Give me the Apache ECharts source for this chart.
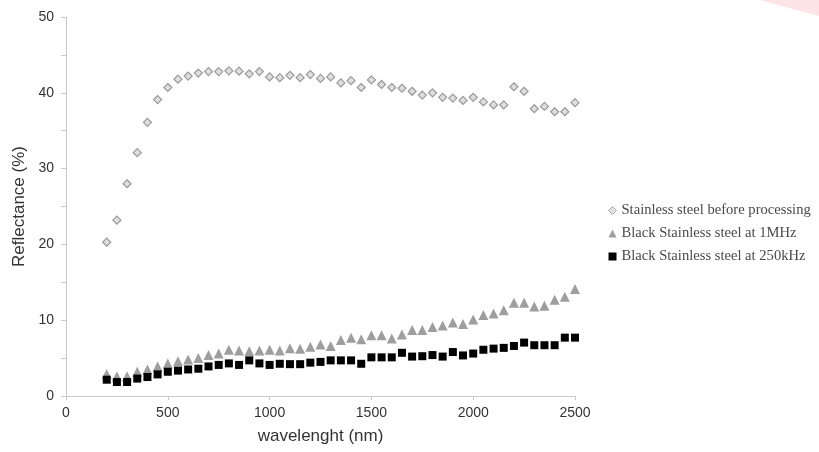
<!DOCTYPE html>
<html>
<head>
<meta charset="utf-8">
<script src="https://cdn.jsdelivr.net/npm/echarts@6/dist/echarts.min.js"></script>
<style>html,body{margin:0;padding:0;background:#fff;}#c{width:819px;height:452px;}</style>
</head>
<body>
<div id="c"></div>
<script>
const wavelengths = [200,250,300,350,400,450,500,550,600,650,700,750,800,850,900,950,1000,1050,1100,1150,1200,1250,1300,1350,1400,1450,1500,1550,1600,1650,1700,1750,1800,1850,1900,1950,2000,2050,2100,2150,2200,2250,2300,2350,2400,2450,2500];
const beforeProcessing = [20.3,23.2,28.0,32.1,36.1,39.1,40.7,41.8,42.2,42.6,42.8,42.8,42.9,42.85,42.5,42.8,42.1,42.0,42.3,42.0,42.4,41.9,42.1,41.3,41.6,40.7,41.7,41.1,40.7,40.6,40.2,39.7,40.0,39.4,39.3,39.0,39.4,38.8,38.4,38.4,40.8,40.2,37.9,38.2,37.5,37.5,38.7];
const black1MHz = [2.9,2.6,2.6,3.2,3.5,3.9,4.3,4.6,4.8,5.0,5.4,5.6,6.1,6.0,5.9,6.0,6.1,6.0,6.3,6.25,6.5,6.8,6.6,7.4,7.7,7.5,8.0,8.0,7.6,8.1,8.7,8.7,9.1,9.3,9.7,9.5,10.1,10.7,10.9,11.3,12.3,12.3,11.8,11.9,12.7,13.1,14.1];
const black250kHz = [2.15,1.85,1.85,2.3,2.5,2.85,3.2,3.35,3.5,3.6,3.9,4.1,4.3,4.1,4.7,4.3,4.1,4.25,4.2,4.2,4.4,4.5,4.7,4.7,4.7,4.25,5.1,5.1,5.1,5.7,5.2,5.25,5.4,5.2,5.8,5.35,5.6,6.1,6.25,6.35,6.6,7.05,6.7,6.7,6.7,7.7,7.7];
const seriesNames = ['Stainless steel before processing','Black Stainless steel at 1MHz','Black Stainless steel at 250kHz'];
const xTicks = [0,500,1000,1500,2000,2500];
const yTicks = [0,10,20,30,40,50];

const pair = (ys) => wavelengths.map((w, i) => [w, ys[i]]);
const chart = echarts.init(document.getElementById('c'), null, {renderer: 'canvas'});
const axisColor = '#c9c9c9';
chart.setOption({
  animation: false,
  backgroundColor: '#fff',
  graphic: [{
    type: 'polygon', silent: true, z: -10,
    shape: {points: [[760,0],[819,0],[819,16]]},
    style: {fill: '#fbe3e6'}
  }],
  grid: {left: 66, right: 244, top: 17, bottom: 56, containLabel: false},
  legend: {
    orient: 'vertical', left: 603, top: 197, itemGap: 6, itemWidth: 8, itemHeight: 8,
    textStyle: {fontFamily: 'Liberation Serif', fontSize: 14.6, color: '#4a4a4a', lineHeight: 17},
    data: [
      {name: seriesNames[0], icon: 'diamond', itemStyle: {color: '#e0e0e0', borderColor: '#aaa', borderWidth: 1}},
      {name: seriesNames[1], icon: 'triangle', itemStyle: {color: '#9e9e9e'}},
      {name: seriesNames[2], icon: 'rect', itemStyle: {color: '#000'}}
    ]
  },
  xAxis: {
    type: 'value', min: xTicks[0], max: xTicks[xTicks.length-1], interval: 500,
    name: 'wavelenght (nm)', nameLocation: 'middle', nameGap: 32,
    nameTextStyle: {fontFamily: 'Liberation Sans', fontSize: 17, color: '#333'},
    axisLine: {show: true, lineStyle: {color: axisColor}},
    axisTick: {show: true, length: 4, lineStyle: {color: axisColor}},
    axisLabel: {fontFamily: 'Liberation Sans', fontSize: 14, color: '#333', margin: 10, formatter: (v) => String(v)},
    splitLine: {show: false}
  },
  yAxis: {
    type: 'value', min: yTicks[0], max: yTicks[yTicks.length-1], interval: 10,
    name: 'Reflectance (%)', nameLocation: 'middle', nameGap: 36,
    nameTextStyle: {fontFamily: 'Liberation Sans', fontSize: 17, color: '#333'},
    axisLine: {show: true, lineStyle: {color: axisColor}},
    axisTick: {show: true, length: 5, lineStyle: {color: axisColor}},
    minorTick: {show: true, splitNumber: 2, length: 5, lineStyle: {color: axisColor}},
    axisLabel: {fontFamily: 'Liberation Sans', fontSize: 14, color: '#333', margin: 12, formatter: (v) => String(v)},
    splitLine: {show: false}
  },
  series: [
    {name: seriesNames[0], type: 'scatter', symbol: 'diamond', symbolSize: 8,
     itemStyle: {color: '#dedede', borderColor: '#999', borderWidth: 1.2, opacity: 1},
     data: pair(beforeProcessing)},
    {name: seriesNames[1], type: 'scatter', symbol: 'triangle', symbolSize: 10,
     itemStyle: {color: '#9e9e9e', opacity: 1},
     data: pair(black1MHz)},
    {name: seriesNames[2], type: 'scatter', symbol: 'rect', symbolSize: 8,
     itemStyle: {color: '#000', opacity: 1},
     data: pair(black250kHz)}
  ]
});
</script>
</body>
</html>
